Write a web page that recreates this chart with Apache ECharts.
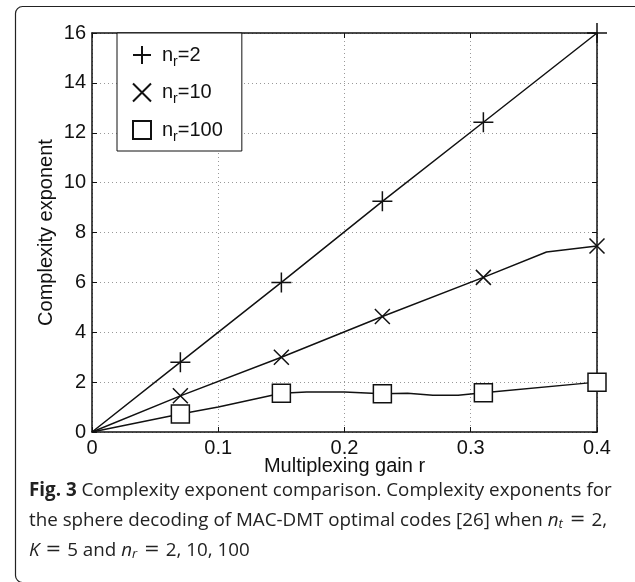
<!DOCTYPE html>
<html><head><meta charset="utf-8">
<script src="https://cdn.jsdelivr.net/npm/echarts@6/dist/echarts.min.js"></script>
<style>html,body{margin:0;padding:0;background:#fff}#c{width:635px;height:582px}</style>
</head><body><div id="c"></div>
<script>
// ---- data ----
const markerR = [0.07, 0.15, 0.23, 0.31, 0.4];
const r2 = [0, 0.07, 0.15, 0.23, 0.31, 0.4];
const nr2 = [0, 2.8, 6.0, 9.25, 12.42, 16.0];
const r10 = [0, 0.07, 0.15, 0.23, 0.31, 0.36, 0.4];
const nr10 = [0, 1.45, 3.0, 4.63, 6.2, 7.22, 7.46];
const r100 = [0, 0.07, 0.1, 0.15, 0.17, 0.2, 0.23, 0.25, 0.27, 0.29, 0.31, 0.4];
const nr100 = [0, 0.72, 1.0, 1.55, 1.6, 1.6, 1.53, 1.55, 1.47, 1.47, 1.57, 2.0];
const seriesNames = ['n_r=2', 'n_r=10', 'n_r=100'];
const xTicks = [0, 0.1, 0.2, 0.3, 0.4];
const yTicks = [0, 2, 4, 6, 8, 10, 12, 14, 16];

const PLUS = 'path://M10,0L10,20M0,10L20,10';
const CROSS = 'path://M0,0L20,20M20,0L0,20';

function build(xs, ys) {
  return xs.map((x, i) => {
    const on = markerR.some(m => Math.abs(m - x) < 1e-9);
    return on ? [x, ys[i]] : { value: [x, ys[i]], symbol: 'none' };
  });
}

const chart = echarts.init(document.getElementById('c'), null, { renderer: 'canvas' });
const axisFont = { fontFamily: 'Liberation Sans', fontSize: 20, color: '#111' };

const option = {
  backgroundColor: '#fff',
  animation: false,
  grid: { left: 92, right: 38, top: 33, bottom: 150, show: false },
  xAxis: [{
    type: 'value', min: xTicks[0], max: xTicks[xTicks.length - 1], interval: 0.1,
    axisLine: { onZero: false, lineStyle: { color: '#111', width: 1.5 } },
    axisTick: { inside: true, length: 5, lineStyle: { color: '#111' } },
    axisLabel: Object.assign({ margin: 6, formatter: v => String(+v.toFixed(1)) }, axisFont),
    splitLine: { show: true, lineStyle: { color: '#999', type: [1, 3], width: 1 } },
    name: 'Multiplexing gain r', nameLocation: 'middle', nameGap: 24, nameMoveOverlap: false,
    nameTextStyle: axisFont
  }, {
    type: 'value', min: xTicks[0], max: xTicks[xTicks.length - 1], interval: 0.1, position: 'top',
    axisLine: { onZero: false, lineStyle: { color: '#111', width: 1.5 } },
    axisTick: { inside: true, length: 5, lineStyle: { color: '#111' } },
    axisLabel: { show: false }, splitLine: { show: false }
  }],
  yAxis: [{
    type: 'value', min: yTicks[0], max: yTicks[yTicks.length - 1], interval: 2,
    axisLine: { show: true, onZero: false, lineStyle: { color: '#111', width: 1.5 } },
    axisTick: { show: true, inside: true, length: 5, lineStyle: { color: '#111' } },
    axisLabel: Object.assign({ margin: 6 }, axisFont),
    splitLine: { show: true, lineStyle: { color: '#999', type: [1, 3], width: 1 } },
    name: 'Complexity exponent', nameLocation: 'middle', nameGap: 36, nameMoveOverlap: false,
    nameTextStyle: axisFont
  }, {
    type: 'value', min: yTicks[0], max: yTicks[yTicks.length - 1], interval: 2, position: 'right',
    axisLine: { show: true, onZero: false, lineStyle: { color: '#111', width: 1.5 } },
    axisTick: { show: true, inside: true, length: 5, lineStyle: { color: '#111' } },
    axisLabel: { show: false }, splitLine: { show: false }
  }],
  legend: {
    left: 117, top: 33, orient: 'vertical',
    backgroundColor: '#fff', borderColor: '#111', borderWidth: 1,
    padding: [12, 19, 7, 15], itemGap: 13.5, itemWidth: 18, itemHeight: 18,
    data: [
      { name: seriesNames[0], icon: PLUS },
      { name: seriesNames[1], icon: CROSS },
      { name: seriesNames[2], icon: 'rect' }
    ],
    formatter: function (name) {
      const p = name.split('_');
      const rest = p[1].slice(1);
      return '{a|' + p[0] + '}{s|r}{a|' + rest + '}';
    },
    textStyle: {
      padding: [0, 0, 0, 6],
      rich: {
        a: { fontFamily: 'Liberation Sans', fontSize: 20, color: '#111' },
        s: { fontFamily: 'Liberation Sans', fontSize: 14, color: '#111', padding: [14, 0, 0, 0] }
      }
    }
  },
  series: [
    {
      name: seriesNames[0], type: 'line', data: build(r2, nr2),
      symbol: PLUS, symbolSize: 20,
      lineStyle: { color: '#111', width: 1.5 },
      itemStyle: { color: '#111', borderColor: '#111', borderWidth: 1.5 }
    },
    {
      name: seriesNames[1], type: 'line', data: build(r10, nr10),
      symbol: CROSS, symbolSize: 15,
      lineStyle: { color: '#111', width: 1.5 },
      itemStyle: { color: '#111', borderColor: '#111', borderWidth: 1.5 }
    },
    {
      name: seriesNames[2], type: 'line', data: build(r100, nr100),
      symbol: 'rect', symbolSize: 18,
      lineStyle: { color: '#111', width: 1.5 },
      itemStyle: { color: '#fff', borderColor: '#111', borderWidth: 1.5 }
    }
  ],
  graphic: [
    {
      type: 'rect', left: 13, top: 4, z: -10, silent: true,
      shape: { width: 640, height: 576, r: 7 },
      style: { fill: 'none', stroke: '#222', lineWidth: 1.2 }
    },
    {
      type: 'text', left: 29, top: 481,
      style: {
        text: '{b|Fig. 3} Complexity exponent comparison. Complexity exponents for',
        font: '18.8px "Open Sans"', fill: '#222',
        rich: { b: { fontFamily: 'Open Sans', fontWeight: 'bold', fontSize: 18.8, fill: '#222' } }
      }
    },
    {
      type: 'text', left: 29, top: 511,
      style: {
        text: 'the sphere decoding of MAC-DMT optimal codes [26] when {i|n}{s|t}{m| = }2,',
        font: '18.8px "Open Sans"', fill: '#222',
        rich: {
          i: { fontFamily: 'Open Sans', fontStyle: 'italic', fontSize: 18.8, fill: '#222' },
          m: { fontFamily: 'DejaVu Serif', fontSize: 18.8, fill: '#222' },
          s: { fontFamily: 'Open Sans', fontStyle: 'italic', fontSize: 13, fill: '#222', padding: [8, 1, 0, 0] }
        }
      }
    },
    {
      type: 'text', left: 29, top: 541,
      style: {
        text: '{i|K}{m| = }5 and {i|n}{s|r}{m| = }2, 10, 100',
        font: '18.8px "Open Sans"', fill: '#222',
        rich: {
          i: { fontFamily: 'Open Sans', fontStyle: 'italic', fontSize: 18.8, fill: '#222' },
          m: { fontFamily: 'DejaVu Serif', fontSize: 18.8, fill: '#222' },
          s: { fontFamily: 'Open Sans', fontStyle: 'italic', fontSize: 13, fill: '#222', padding: [8, 1, 0, 0] }
        }
      }
    }
  ]
};
chart.setOption(option);
</script>
</body></html>
